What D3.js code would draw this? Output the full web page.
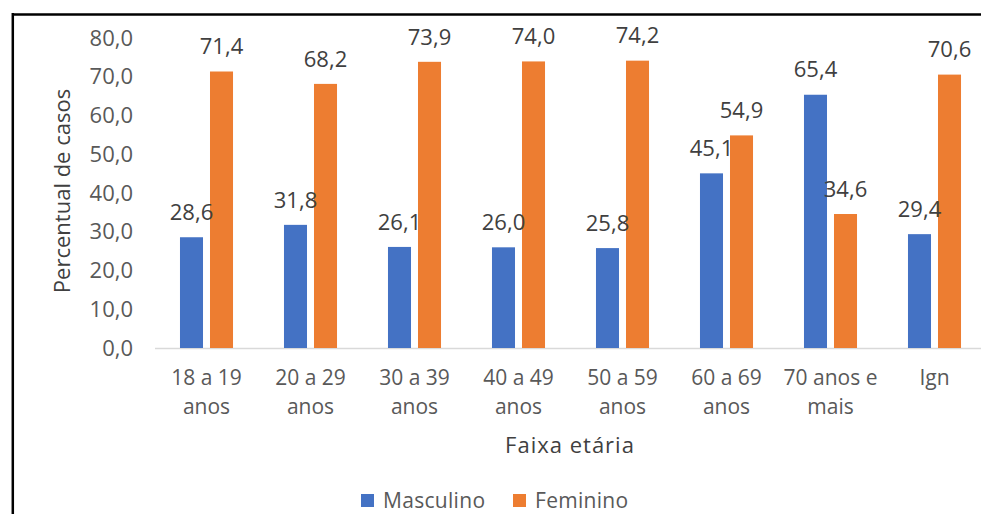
<!DOCTYPE html>
<html>
<head>
<meta charset="utf-8">
<script src="https://cdn.jsdelivr.net/npm/d3@7"></script>
<style>
  html, body { margin: 0; padding: 0; background: #fff; }
  svg text { font-family: "Open Sans", sans-serif; }
</style>
</head>
<body>
<div id="viz"></div>
<script>
// Data
const categories = ['18 a 19 anos', '20 a 29 anos', '30 a 39 anos', '40 a 49 anos', '50 a 59 anos', '60 a 69 anos', '70 anos e mais', 'Ign'];
const categoryLines = [
  ['18 a 19', 'anos'], ['20 a 29', 'anos'], ['30 a 39', 'anos'], ['40 a 49', 'anos'],
  ['50 a 59', 'anos'], ['60 a 69', 'anos'], ['70 anos e', 'mais'], ['Ign']
];
const seriesNames = ['Masculino', 'Feminino'];
const masculino = [28.6, 31.8, 26.1, 26.0, 25.8, 45.1, 65.4, 29.4];
const feminino = [71.4, 68.2, 73.9, 74.0, 74.2, 54.9, 34.6, 70.6];
const yTicks = [0, 10, 20, 30, 40, 50, 60, 70, 80];

(function () {
  const W = 981, H = 514;
  const colors = { Masculino: '#4472C4', Feminino: '#ED7D31' };
  const fmt = d3.formatLocale({ decimal: ',', thousands: '.', grouping: [3], currency: ['', ''] }).format('.1f');

  const svg = d3.select('#viz').append('svg').attr('width', W).attr('height', H);

  // frame (cut off on the right and bottom in the reference)
  svg.append('line').attr('x1', 12).attr('x2', W).attr('y1', 14.5).attr('y2', 14.5)
    .attr('stroke', '#000').attr('stroke-width', 2.5);
  svg.append('line').attr('x1', 12.8).attr('x2', 12.8).attr('y1', 13).attr('y2', H)
    .attr('stroke', '#000').attr('stroke-width', 2.5);

  const x = d3.scaleBand().domain(categories).range([154.5, 986.5])
    .paddingInner(0.49).paddingOuter(0.245);
  const xs = d3.scaleBand().domain(seriesNames).range([0, x.bandwidth()]).paddingInner(0.233);
  const y = d3.scaleLinear().domain([0, 80]).range([348, 38.2]);

  // y axis labels
  const yAxis = svg.append('g').attr('transform', 'translate(145,0)')
    .call(d3.axisLeft(y).tickValues(yTicks).tickFormat(fmt).tickSize(0).tickPadding(12));
  yAxis.select('.domain').remove();
  yAxis.selectAll('text').attr('font-size', 22).attr('fill', '#595959')
    .style('font-family', '"Open Sans", sans-serif');

  // x axis
  const xAxis = svg.append('g').attr('transform', 'translate(0,348)')
    .call(d3.axisBottom(x).tickSize(0).tickFormat(''));
  xAxis.select('.domain').attr('stroke', '#d9d9d9').attr('stroke-width', 1.5);
  xAxis.selectAll('.tick').each(function (d, i) {
    const t = d3.select(this).append('text').attr('fill', '#595959').attr('font-size', 21)
      .attr('text-anchor', 'middle');
    categoryLines[i].forEach((ln, j) => {
      t.append('tspan').attr('x', 0).attr('y', 30 + j * 29).attr('dy', '0.35em').text(ln);
    });
  });

  // bars
  const rows = categories.map((c, i) => ({ cat: c, vals: [
    { name: 'Masculino', value: masculino[i] },
    { name: 'Feminino', value: feminino[i] }
  ] }));

  const groups = svg.selectAll('.grp').data(rows).enter().append('g')
    .attr('class', 'grp').attr('transform', (d) => `translate(${x(d.cat)},0)`);

  groups.selectAll('rect').data((d) => d.vals).enter().append('rect')
    .attr('x', (d) => xs(d.name))
    .attr('y', (d) => y(d.value))
    .attr('width', xs.bandwidth())
    .attr('height', (d) => y(0) - y(d.value))
    .attr('fill', (d) => colors[d.name]);

  groups.selectAll('.lbl').data((d) => d.vals).enter().append('text')
    .attr('class', 'lbl')
    .attr('x', (d) => xs(d.name) + xs.bandwidth() / 2)
    .attr('y', (d) => y(d.value) - 25)
    .attr('dy', '0.35em')
    .attr('text-anchor', 'middle')
    .attr('font-size', 22)
    .attr('fill', '#404040')
    .text((d) => fmt(d.value));

  // axis titles
  svg.append('text').attr('transform', 'translate(62,191) rotate(-90)')
    .attr('text-anchor', 'middle').attr('dy', '0.35em')
    .attr('font-size', 22).attr('fill', '#404040').text('Percentual de casos');
  svg.append('text').attr('x', 570).attr('y', 445).attr('dy', '0.35em')
    .attr('text-anchor', 'middle').attr('font-size', 22).attr('fill', '#404040')
    .style('letter-spacing', '1px').text('Faixa etária');

  // legend
  const legX = [361, 513];
  const leg = svg.selectAll('.leg').data(seriesNames).enter().append('g')
    .attr('class', 'leg').attr('transform', (d, i) => `translate(${legX[i]},494)`);
  leg.append('rect').attr('width', 13).attr('height', 13).attr('fill', (d) => colors[d]);
  leg.append('text').attr('x', 22).attr('y', 6.5).attr('dy', '0.35em')
    .attr('font-size', 21).attr('fill', '#595959').style('letter-spacing', '0.3px').text((d) => d);
})();
</script>
</body>
</html>
